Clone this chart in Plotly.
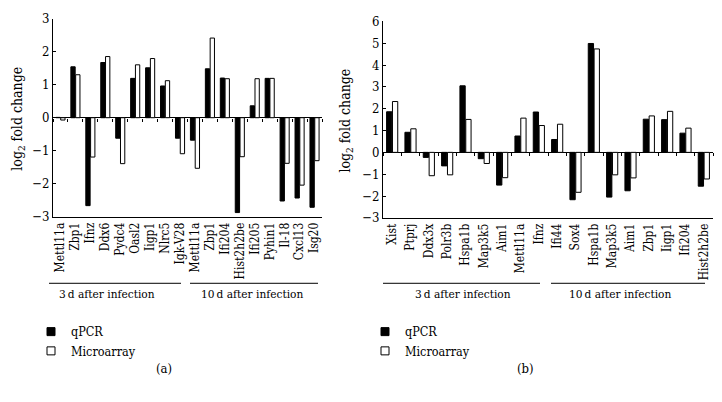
import plotly.graph_objects as go

# ---------------- data ----------------
genes_a = ["Mettl11a", "Zbp1", "Ifnz", "Ddx6", "Pydc4", "Oasl2", "Iigp1", "Nlrc5", "Igk-V28",
           "Mettl11a", "Zbp1", "Ifi204", "Hist2h2be", "Ifi205", "Pyhin1", "Il-18", "Cxcl13", "Isg20"]
qpcr_a = [0.01, 1.54, -2.66, 1.67, -0.62, 1.19, 1.51, 0.96, -0.62,
          -0.68, 1.48, 1.20, -2.87, 0.36, 1.19, -2.52, -2.43, -2.71]
micro_a = [-0.07, 1.30, -1.19, 1.85, -1.39, 1.60, 1.79, 1.12, -1.09,
           -1.53, 2.41, 1.18, -1.18, 1.18, 1.19, -1.38, -2.04, -1.30]

genes_b = ["Xist", "Ptprj", "Ddx3x", "Polr3b", "Hspa1b", "Map3k5", "Aim1", "Mettl11a", "Ifnz",
           "Ifi44", "Sox4", "Hspa1b", "Map3k5", "Aim1", "Zbp1", "Iigp1", "Ifi204", "Hist2h2be"]
qpcr_b = [1.86, 0.92, -0.23, -0.62, 3.05, -0.29, -1.50, 0.75, 1.85,
          0.59, -2.17, 4.99, -2.05, -1.76, 1.52, 1.50, 0.88, -1.55]
micro_b = [2.33, 1.08, -1.07, -1.03, 1.51, -0.51, -1.16, 1.57, 1.23,
           1.29, -1.83, 4.74, -1.03, -1.17, 1.67, 1.88, 1.11, -1.22]

groups = ["3\u2009d after infection", "10\u2009d after infection"]
series = ["qPCR", "Microarray"]

FONT = "'DejaVu Serif Condensed', 'Liberation Serif', 'Times New Roman', serif"
W, H = 722, 402

fig = go.Figure()

def add_panel(genes, q, m, xa, ya):
    idx = list(range(len(genes)))
    fig.add_trace(go.Bar(x=idx, y=q, name=series[0], xaxis=xa, yaxis=ya, showlegend=False,
                         marker=dict(color="black", line=dict(color="black", width=1))))
    fig.add_trace(go.Bar(x=idx, y=m, name=series[1], xaxis=xa, yaxis=ya, showlegend=False,
                         marker=dict(color="white", line=dict(color="black", width=1))))

add_panel(genes_a, qpcr_a, micro_a, "x", "y")
add_panel(genes_b, qpcr_b, micro_b, "x2", "y2")

# legend entries (small square keys like the reference)
for legend, xa, ya in [("legend", "x", "y"), ("legend2", "x2", "y2")]:
    for name, fill in zip(series, ["black", "white"]):
        fig.add_trace(go.Scatter(x=[None], y=[None], mode="markers", name=name,
                                 xaxis=xa, yaxis=ya, legend=legend, hoverinfo="skip",
                                 marker=dict(symbol="square", size=8, color=fill,
                                             line=dict(color="black", width=1))))

# invisible traces for the zero-line tick axes
fig.add_trace(go.Scatter(x=[None], y=[None], xaxis="x3", yaxis="y", showlegend=False, hoverinfo="skip"))
fig.add_trace(go.Scatter(x=[None], y=[None], xaxis="x4", yaxis="y2", showlegend=False, hoverinfo="skip"))

# panel geometry (paper fractions)
ax_dom = [53 / W, 322 / W]
bx_dom = [383 / W, 713 / W]
ay_dom = [1 - 218 / H, 1 - 12 / H]
by_dom = [1 - 219 / H, 1 - 15 / H]
ya_rng = [-3, 3]
yb_rng = [-3, 6]

def zero_pos(dom, rng):
    return dom[0] + (0 - rng[0]) / (rng[1] - rng[0]) * (dom[1] - dom[0])

n = len(genes_a)
xr = [-0.5, n - 0.5]
bounds = [i - 0.5 for i in range(n + 1)]

xtickfont = dict(family=FONT, size=12, color="black")
ytickfont = dict(family=FONT, size=13, color="black")

def xaxis(dom, anchor, genes):
    return dict(domain=dom, anchor=anchor, range=xr, tickmode="array",
                tickvals=list(range(len(genes))), ticktext=genes, tickangle=-90,
                showline=True, linecolor="black", linewidth=1, ticks="",
                showgrid=False, zeroline=False, tickfont=xtickfont, fixedrange=True)

def yaxis(dom, anchor, rng):
    return dict(domain=dom, anchor=anchor, range=rng, dtick=1, showline=True,
                linecolor="black", linewidth=1, ticks="inside", ticklen=3, tickcolor="black",
                showgrid=False, zeroline=True, zerolinecolor="black", zerolinewidth=1,
                tickfont=ytickfont, fixedrange=True)

def tick_axis(overlay, pos):
    return dict(overlaying=overlay, anchor="free", position=pos, range=xr,
                tickmode="array", tickvals=bounds, ticks="outside", ticklen=3,
                tickcolor="black", showticklabels=False, showline=False,
                showgrid=False, zeroline=False, fixedrange=True)

legend_common = dict(xanchor="left", yanchor="top", font=dict(family=FONT, size=12.5),
                     bgcolor="rgba(0,0,0,0)", tracegroupgap=0, itemwidth=30)

fig.update_layout(
    width=W, height=H,
    margin=dict(l=0, r=0, t=0, b=0),
    paper_bgcolor="white", plot_bgcolor="white",
    font=dict(family=FONT, size=13, color="black"),
    barmode="group", bargap=0.36, bargroupgap=0.1,
    xaxis=xaxis(ax_dom, "y", genes_a),
    yaxis=yaxis(ay_dom, "x", ya_rng),
    xaxis2=xaxis(bx_dom, "y2", genes_b),
    yaxis2=yaxis(by_dom, "x2", yb_rng),
    xaxis3=tick_axis("x", zero_pos(ay_dom, ya_rng)),
    xaxis4=tick_axis("x2", zero_pos(by_dom, yb_rng)),
    legend=dict(x=31 / W, y=1 - 322 / H, **legend_common),
    legend2=dict(x=365 / W, y=1 - 322 / H, **legend_common),
    showlegend=True,
)

# group bracket lines and labels
line_y = 1 - 287 / H
text_y = 1 - 298 / H
brackets = [
    ((49, 181), 107, groups[0]), ((190, 318), 252, groups[1]),
    ((383, 540), 463, groups[0]), ((551, 705), 620, groups[1]),
]
for (x0, x1), xc, label in brackets:
    fig.add_shape(type="line", xref="paper", yref="paper", x0=x0 / W, x1=x1 / W,
                  y0=line_y, y1=line_y, line=dict(color="black", width=1))
    fig.add_annotation(xref="paper", yref="paper", x=xc / W, y=text_y, text=label,
                       showarrow=False, xanchor="center", yanchor="middle",
                       font=dict(family=FONT, size=11.8))

# y titles
for xpx, ycpx in [(18, 116), (346, 118)]:
    fig.add_annotation(xref="paper", yref="paper", x=xpx / W, y=1 - ycpx / H,
                       text="log<sub>2</sub> fold change", textangle=-90, showarrow=False,
                       xanchor="center", yanchor="middle", font=dict(family=FONT, size=14))

# panel letters
for xpx, lab in [(164, "(a)"), (525, "(b)")]:
    fig.add_annotation(xref="paper", yref="paper", x=xpx / W, y=1 - 376 / H, text=lab,
                       showarrow=False, xanchor="center", yanchor="middle",
                       font=dict(family=FONT, size=13))

fig.write_html("out.html", config={"displayModeBar": False, "staticPlot": True},
               post_script="document.body.style.margin='0';document.body.style.overflow='hidden';")
